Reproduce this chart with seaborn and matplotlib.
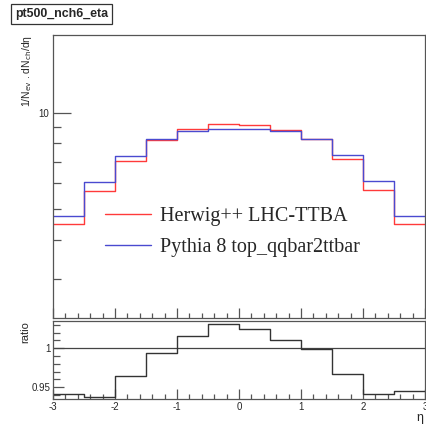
import numpy as np
import matplotlib
matplotlib.use("Agg")
import matplotlib.pyplot as plt
import seaborn as sns
from matplotlib.ticker import MultipleLocator, FixedLocator, NullFormatter

# bin edges in eta and the two histograms
edges = [-3, -2.5, -2, -1.5, -1, -0.5, 0, 0.5, 1, 1.5, 2, 2.5, 3]
herwig = [4.47, 5.69, 7.05, 8.20, 8.87, 9.18, 9.14, 8.83, 8.25, 7.13, 5.72, 4.48]
pythia = [4.75, 6.07, 7.30, 8.25, 8.74, 8.91, 8.91, 8.74, 8.25, 7.37, 6.08, 4.75]
ratio = [0.9414, 0.9376, 0.9649, 0.9944, 1.0152, 1.0308, 1.0251, 1.0106, 0.9995, 0.967, 0.9414, 0.9457]

labels = ["Herwig++ LHC-TTBA", "Pythia 8 top_qqbar2ttbar"]
colors = ["#ff3a3a", "#4a4ad0"]

sns.set_style("ticks")
plt.rcParams["font.family"] = ["Liberation Sans", "DejaVu Sans"]
plt.rcParams["axes.edgecolor"] = "#555555"
plt.rcParams["axes.linewidth"] = 0.9
plt.rcParams["axes.unicode_minus"] = False

centers = [(a + b) / 2 for a, b in zip(edges[:-1], edges[1:])]

fig = plt.figure(figsize=(4.26, 4.24), dpi=100)
ax = fig.add_axes([53 / 426, 1 - 318 / 424, 372 / 426, 283 / 424])
rax = fig.add_axes([53 / 426, 1 - 399 / 424, 372 / 426, 78 / 424])

for vals, lab, col in zip([herwig, pythia], labels, colors):
    sns.histplot(x=centers, weights=vals, bins=edges, element="step", fill=False,
                 color=col, linewidth=1.0, ax=ax, label=lab)

ax.set_yscale("log")
ax.set_xlim(-3, 3)
ax.set_ylim(2.27, 17.5)
ax.yaxis.set_major_locator(FixedLocator([10]))
ax.yaxis.set_minor_locator(FixedLocator([3, 4, 5, 6, 7, 8, 9]))
ax.yaxis.set_minor_formatter(NullFormatter())
ax.set_yticklabels(["10"])
ax.xaxis.set_major_locator(MultipleLocator(1))
ax.xaxis.set_minor_locator(MultipleLocator(0.2))
ax.set_xticklabels([])
ax.tick_params(which="both", direction="in", color="#555555", labelsize=7, pad=3,
               bottom=True, left=True, top=False, right=False)
ax.tick_params(axis="y", which="major", length=13, width=0.9)
ax.tick_params(axis="y", which="minor", length=6, width=0.9)
ax.tick_params(axis="x", which="major", length=7, width=0.9)
ax.tick_params(axis="x", which="minor", length=3.5, width=0.9)
ax.set_xlabel("")
ax.set_ylabel("1/N$_{\\rm ev}$ . dN$_{\\rm ch}$/dη", fontsize=7.5, loc="top")
ax.yaxis.set_label_coords(-0.052, 1.0)

leg = ax.legend(loc="upper left", bbox_to_anchor=(0.09, 0.455), frameon=False,
                prop={"family": "Liberation Serif", "size": 14.5},
                handlelength=2.3, handletextpad=0.45, labelspacing=0.55)

# ratio panel
rax.axhline(1, color="#444444", linewidth=0.9)
sns.histplot(x=centers, weights=ratio, bins=edges, element="step", fill=False,
             color="#333333", linewidth=1.0, ax=rax)
rax.set_xlim(-3, 3)
rax.set_ylim(0.935, 1.035)
rax.yaxis.set_major_locator(FixedLocator([0.95, 1.0]))
rax.yaxis.set_minor_locator(MultipleLocator(0.01))
rax.set_yticklabels(["0.95", "1"])
rax.xaxis.set_major_locator(MultipleLocator(1))
rax.xaxis.set_minor_locator(MultipleLocator(0.2))
rax.tick_params(which="both", direction="in", color="#555555", labelsize=7, pad=2,
                bottom=True, left=True, top=False, right=False)
rax.tick_params(axis="y", which="major", length=8, width=0.9)
rax.tick_params(axis="y", which="minor", length=5, width=0.9)
rax.tick_params(axis="x", which="major", length=7, width=0.9)
rax.tick_params(axis="x", which="minor", length=3.5, width=0.9)
rax.set_ylabel("ratio", fontsize=8, loc="top")
rax.yaxis.set_label_coords(-0.06, 1.0)
rax.set_xlabel("")
fig.text(420 / 426, 1 - 418 / 424, "η", fontsize=9, ha="center", va="center")

fig.text(15 / 426, 1 - 14 / 424, "pt500_nch6_eta", fontsize=8.9, fontweight="bold",
         ha="left", va="center",
         bbox=dict(facecolor="white", edgecolor="#333333", linewidth=0.9,
                   boxstyle="square,pad=0.3"))

fig.savefig("out.png", dpi=100)
